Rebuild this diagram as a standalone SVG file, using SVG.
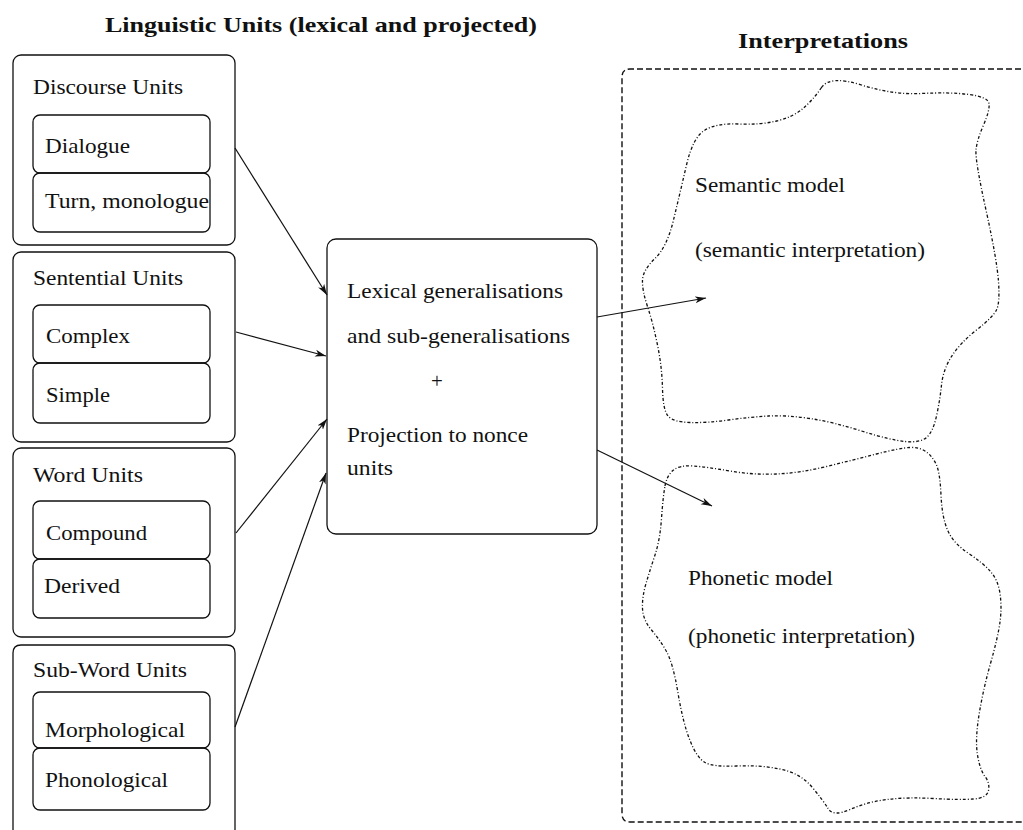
<svg xmlns="http://www.w3.org/2000/svg" width="1023" height="830" viewBox="0 0 1023 830">
<style>
  .box { fill: none; stroke: #111; stroke-width: 1.3; }
  .t { font-family: "Liberation Serif", "Times New Roman", serif; font-size: 21px; fill: #111; }
  .title { font-family: "Liberation Serif", "Times New Roman", serif; font-size: 21px; font-weight: bold; fill: #111; }
  .conn { stroke: #111; stroke-width: 1.2; fill: none; }
  .blob { fill: none; stroke: #111; stroke-width: 1.3; stroke-dasharray: 3 2 1 2; }
  .outer { fill: none; stroke: #111; stroke-width: 1.4; stroke-dasharray: 6 3; }
</style>
<defs>
  <marker id="arr" markerUnits="userSpaceOnUse" markerWidth="12" markerHeight="8" refX="11" refY="4" orient="auto">
    <path d="M0,0.5 L11,4 L0,7.5 L3,4 z" fill="#111"/>
  </marker>
</defs>
<rect width="1023" height="830" fill="#fff"/>

<text class="title" x="105" y="32" textLength="432" lengthAdjust="spacingAndGlyphs">Linguistic Units (lexical and projected)</text>
<text class="title" x="738" y="48" textLength="170" lengthAdjust="spacingAndGlyphs">Interpretations</text>

<g id="discourse">
  <rect class="box" x="13" y="55" width="222" height="190" rx="8"/>
  <text class="t" x="33" y="94" textLength="150" lengthAdjust="spacingAndGlyphs">Discourse Units</text>
  <g id="dialogue">
    <rect class="box" x="33" y="115" width="177" height="58" rx="7"/>
    <text class="t" x="45" y="153" textLength="85" lengthAdjust="spacingAndGlyphs">Dialogue</text>
  </g>
  <g id="turn">
    <rect class="box" x="33" y="173" width="177" height="59" rx="7"/>
    <text class="t" x="45" y="208" textLength="164" lengthAdjust="spacingAndGlyphs">Turn, monologue</text>
  </g>
</g>

<g id="sentential">
  <rect class="box" x="13" y="252" width="222" height="190" rx="8"/>
  <text class="t" x="33" y="285" textLength="150" lengthAdjust="spacingAndGlyphs">Sentential Units</text>
  <g id="complex">
    <rect class="box" x="33" y="305" width="177" height="58" rx="7"/>
    <text class="t" x="46" y="343" textLength="84" lengthAdjust="spacingAndGlyphs">Complex</text>
  </g>
  <g id="simple">
    <rect class="box" x="33" y="363" width="177" height="60" rx="7"/>
    <text class="t" x="46" y="402" textLength="64" lengthAdjust="spacingAndGlyphs">Simple</text>
  </g>
</g>

<g id="word">
  <rect class="box" x="13" y="448" width="222" height="189" rx="8"/>
  <text class="t" x="33" y="482" textLength="110" lengthAdjust="spacingAndGlyphs">Word Units</text>
  <g id="compound">
    <rect class="box" x="33" y="501" width="177" height="58" rx="7"/>
    <text class="t" x="46" y="540" textLength="101" lengthAdjust="spacingAndGlyphs">Compound</text>
  </g>
  <g id="derived">
    <rect class="box" x="33" y="559" width="177" height="59" rx="7"/>
    <text class="t" x="44" y="593" textLength="76" lengthAdjust="spacingAndGlyphs">Derived</text>
  </g>
</g>

<g id="subword">
  <path class="box" d="M13,850 V653 Q13,645 21,645 H227 Q235,645 235,653 V850"/>
  <text class="t" x="33" y="677" textLength="154" lengthAdjust="spacingAndGlyphs">Sub-Word Units</text>
  <g id="morphological">
    <rect class="box" x="33" y="692" width="177" height="56" rx="7"/>
    <text class="t" x="45" y="737" textLength="140" lengthAdjust="spacingAndGlyphs">Morphological</text>
  </g>
  <g id="phonological">
    <rect class="box" x="33" y="748" width="177" height="62" rx="7"/>
    <text class="t" x="45" y="787" textLength="123" lengthAdjust="spacingAndGlyphs">Phonological</text>
  </g>
</g>

<g id="lexical">
  <rect class="box" x="327" y="239" width="270" height="295" rx="9"/>
  <text class="t" x="347" y="298" textLength="216" lengthAdjust="spacingAndGlyphs">Lexical generalisations</text>
  <text class="t" x="347" y="343" textLength="223" lengthAdjust="spacingAndGlyphs">and sub-generalisations</text>
  <text class="t" x="437" y="388" text-anchor="middle">+</text>
  <text class="t" x="347" y="442" textLength="181" lengthAdjust="spacingAndGlyphs">Projection to nonce</text>
  <text class="t" x="347" y="475" textLength="46" lengthAdjust="spacingAndGlyphs">units</text>
</g>

<g id="interpretations">
  <path class="outer" d="M1030,69 H630 Q622,69 622,77 V814 Q622,822 630,822 H1030"/>
</g>

<g id="semantic">
  <path class="blob" d="M821.5,87.5 Q830,75 861.5,85 Q893,95 921.5,93.5 Q950,92 969,94.5 Q988,97 989,103.5 Q990,110 983.5,125 Q977,140 976,150 Q975,160 986,210 Q997,260 998.5,281.5 Q1000,303 996.5,310 Q993,317 976.5,330 Q960,343 951.5,356.5 Q943,370 941.5,385 Q940,400 936.5,416 Q933,432 926.5,437.5 Q920,443 905,441.5 Q890,440 861.5,431 Q833,422 810,418.5 Q787,415 768.5,416 Q750,417 728.5,420 Q707,423 690,422.5 Q673,422 668,416 Q663,410 662.5,388.5 Q662,367 657.5,345 Q653,323 647.5,306.5 Q642,290 642.5,280 Q643,270 655,258.5 Q667,247 673.5,220 Q680,193 686.5,165 Q693,137 705,130 Q717,123 738.5,124 Q760,125 776.5,121 Q793,117 803,108.5 Q813,100 821.5,87.5 Z"/>
  <text class="t" x="695" y="192" textLength="150" lengthAdjust="spacingAndGlyphs">Semantic model</text>
  <text class="t" x="695" y="257" textLength="230" lengthAdjust="spacingAndGlyphs">(semantic interpretation)</text>
</g>

<g id="phonetic">
  <path class="blob" d="M665,486 Q667,475 673.5,470 Q680,465 693.5,466 Q707,467 730,471 Q753,475 776.5,474 Q800,473 826.5,466.5 Q853,460 876.5,454 Q900,448 910,447.5 Q920,447 926.5,452 Q933,457 936.5,465 Q940,473 941,495 Q942,517 947.5,530 Q953,543 968,553 Q983,563 990.5,571.5 Q998,580 1000,593.5 Q1002,607 1000,622 Q998,637 990.5,663.5 Q983,690 979,715 Q975,740 977.5,755 Q980,770 985,776.5 Q990,783 988.5,790.5 Q987,798 973.5,799 Q960,800 933.5,798.5 Q907,797 887,799.5 Q867,802 850,809.5 Q833,817 828,808.5 Q823,800 811.5,786.5 Q800,773 780,769 Q760,765 736.5,766 Q713,767 705,762.5 Q697,758 690,740.5 Q683,723 678,693 Q673,663 666.5,651.5 Q660,640 651.5,630 Q643,620 642.5,608.5 Q642,597 646,583.5 Q650,570 655,555 Q660,540 661.5,518.5 Q663,497 665,486 Z"/>
  <text class="t" x="688" y="585" textLength="145" lengthAdjust="spacingAndGlyphs">Phonetic model</text>
  <text class="t" x="688" y="643" textLength="227" lengthAdjust="spacingAndGlyphs">(phonetic interpretation)</text>
</g>

<g id="connectors">
  <line class="conn" x1="235" y1="148" x2="327" y2="295" marker-end="url(#arr)"/>
  <line class="conn" x1="236" y1="332" x2="326" y2="356" marker-end="url(#arr)"/>
  <line class="conn" x1="236" y1="533" x2="327" y2="419" marker-end="url(#arr)"/>
  <line class="conn" x1="235" y1="727" x2="326" y2="473" marker-end="url(#arr)"/>
  <line class="conn" x1="597" y1="317" x2="706" y2="298" marker-end="url(#arr)"/>
  <line class="conn" x1="597" y1="450" x2="712" y2="506" marker-end="url(#arr)"/>
</g>
</svg>
